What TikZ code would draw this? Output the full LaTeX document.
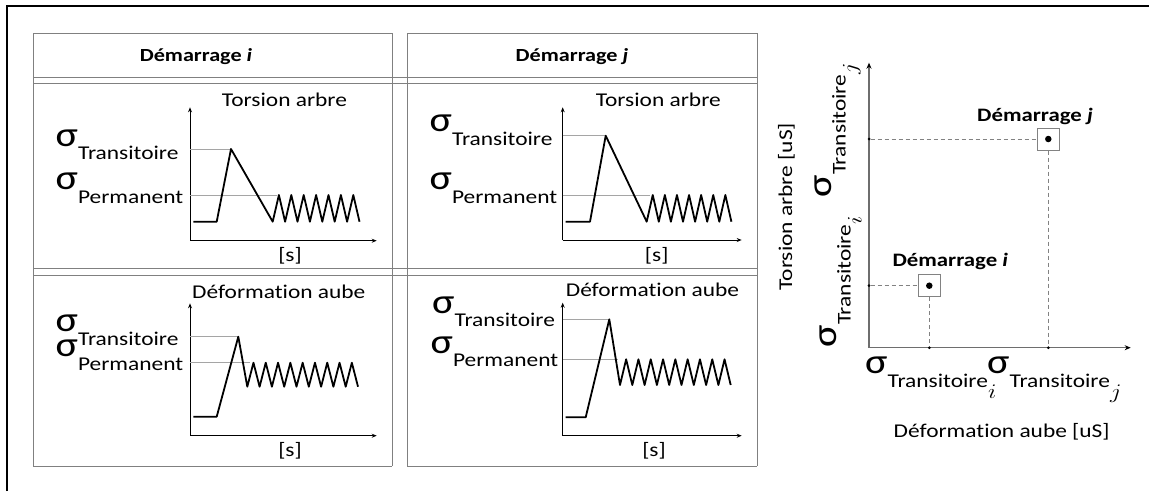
\documentclass[tikz,border=0pt]{standalone}
\usepackage{fontspec}
\usepackage{graphicx}
\setmainfont{Carlito}[Ligatures=CommonOff]
\newfontfamily\sigfont{Carlito}
\usetikzlibrary{arrows.meta}
\definecolor{tblgray}{RGB}{128,128,128}
\definecolor{guidegray}{RGB}{165,165,165}
\definecolor{axgray}{RGB}{110,110,110}
\definecolor{dashgray}{RGB}{130,130,130}
\newcommand\stretchx[1]{\scalebox{1.2}[1]{#1}}
\newcommand\labfont{\fontsize{19.5}{22}\selectfont}
\newcommand\hdrfont{\fontsize{18.5}{22}\selectfont\bfseries}
\newcommand\sigglyph{{\sigfont\fontsize{35}{35}\selectfont σ}}
\newcommand\mysig[1]{\stretchx{\sigglyph\raisebox{-13.5pt}{\labfont #1}}}
\newcommand\mysigsub[1]{\stretchx{\sigglyph\raisebox{-14pt}{\labfont Transitoire}\raisebox{-25pt}{\fontsize{22}{22}\selectfont$#1$}}}
\begin{document}
\begin{tikzpicture}[x=1pt,y=-1pt,
  tbl/.style={draw=tblgray,line width=1pt},
  ax/.style={line width=0.9pt,-{Stealth[length=5pt,width=4pt]}},
  axr/.style={draw=axgray,line width=1.4pt,-{Stealth[length=6pt,width=5pt,color=black]}},
  sigline/.style={line width=1.8pt,line join=round},
  guide/.style={draw=guidegray,line width=0.9pt},
  lbl/.style={inner sep=0pt,font=\labfont},
  siglbl/.style={inner sep=0pt,anchor=base west},
  hdr/.style={inner sep=0pt,anchor=base,font=\hdrfont},
  dashln/.style={draw=dashgray,line width=0.9pt,dash pattern=on 4pt off 3pt},
  bigdot/.style={circle,fill=black,inner sep=0pt,minimum size=6.5pt},
  smalldot/.style={circle,fill=black,inner sep=0pt,minimum size=3pt},
  sqbox/.style={draw=dashgray,line width=1pt,inner sep=0pt,minimum size=22pt}]
\useasboundingbox (0,0) rectangle (1149,491);
% outer frame
\draw[line width=2pt] (6.5,491) -- (6.5,5.5) -- (1149,5.5);
% table grid
\foreach \xx in {33,392,407,757} \draw[tbl] (\xx,33) -- (\xx,466);
\foreach \yy in {77,83,268,275} \draw[tbl] (33,\yy) -- (757,\yy);
\draw[tbl] (33,33) -- (392,33);
\draw[tbl] (407,33) -- (757,33);
\draw[tbl] (33,466) -- (392,466);
\draw[tbl] (407,466) -- (757,466);
% headers
\node[hdr] (hi) at (196,61) {\stretchx{Démarrage \textit{i}}};
\node[hdr] (hj) at (572,61) {\stretchx{Démarrage \textit{j}}};
% ---------- panel 1 ----------
\coordinate (o1) at (190,240.7);
\coordinate (y1) at (190,107.3);
\coordinate (x1) at (376.7,240.7);
\draw[ax] (o1) -- (y1);
\draw[ax] (o1) -- (x1);
\draw[guide] (190,149) -- (231,149);
\draw[guide] (190,195) -- (276.7,195);
\draw[sigline] (193.3,221.7) -- (216.7,221.7) -- (231,149) -- (272.7,221.7)
  \foreach \k in {1,...,7} { -- ++(6.2,-26.7) -- ++(6.2,26.7) };
\node[lbl,anchor=base] (t1) at (284.5,106) {\stretchx{Torsion arbre}};
\node[lbl,anchor=base] (s1) at (290,261) {\stretchx{[s]}};
\node[siglbl] (a1) at (55.5,146) {\mysig{Transitoire}};
\node[siglbl] (b1) at (55.5,189.5) {\mysig{Permanent}};
% ---------- panel 2 ----------
\coordinate (o2) at (562.7,240);
\coordinate (y2) at (562.7,107.3);
\coordinate (x2) at (741.7,240);
\draw[ax] (o2) -- (y2);
\draw[ax] (o2) -- (x2);
\draw[guide] (562.7,135.7) -- (605.7,135.7);
\draw[guide] (562.7,195) -- (650,195);
\draw[sigline] (565.7,221.7) -- (590,221.7) -- (605.7,135.7) -- (646.7,221.7)
  \foreach \k in {1,...,7} { -- ++(6.05,-26.7) -- ++(6.05,26.7) };
\node[lbl,anchor=base] (t2) at (658.3,106) {\stretchx{Torsion arbre}};
\node[lbl,anchor=base] (s2) at (656.7,261) {\stretchx{[s]}};
\node[siglbl] (a2) at (429.5,131.7) {\mysig{Transitoire}};
\node[siglbl] (b2) at (429.5,189.5) {\mysig{Permanent}};
% ---------- panel 3 ----------
\coordinate (o3) at (190,435.7);
\coordinate (y3) at (190,303.3);
\coordinate (x3) at (376.7,435.7);
\draw[ax] (o3) -- (y3);
\draw[ax] (o3) -- (x3);
\draw[guide] (190,336.7) -- (238.3,336.7);
\draw[guide] (190,362.7) -- (250,362.7);
\draw[sigline] (193.3,416.7) -- (216.7,416.7) -- (238.3,336.7) -- (247.3,386.7)
  \foreach \k in {1,...,9} { -- ++(6.15,-24) -- ++(6.15,24) };
\node[lbl,anchor=base] (t3) at (278.8,298.3) {\stretchx{Déformation aube}};
\node[lbl,anchor=base] (s3) at (290,456) {\stretchx{[s]}};
\node[siglbl] (a3) at (55.5,331.7) {\mysig{Transitoire}};
\node[siglbl] (b3) at (55.5,356.7) {\mysig{Permanent}};
% ---------- panel 4 ----------
\coordinate (o4) at (562.7,435.7);
\coordinate (y4) at (562.7,302.7);
\coordinate (x4) at (741.7,435.7);
\draw[ax] (o4) -- (y4);
\draw[ax] (o4) -- (x4);
\draw[guide] (562.7,319.3) -- (609.3,319.3);
\draw[guide] (562.7,359.3) -- (618.3,359.3);
\draw[sigline] (565.7,417.3) -- (585.7,417.3) -- (609.3,319.3) -- (620,385)
  \foreach \k in {1,...,9} { -- ++(6.15,-25.7) -- ++(6.15,25.7) };
\node[lbl,anchor=base] (t4) at (652.5,296.7) {\stretchx{Déformation aube}};
\node[lbl,anchor=base] (s4) at (654,456) {\stretchx{[s]}};
\node[siglbl] (a4) at (432,313.3) {\mysig{Transitoire}};
\node[siglbl] (b4) at (430.5,353.3) {\mysig{Permanent}};
% ---------- right chart ----------
\coordinate (O) at (869,347.7);
\coordinate (Yt) at (869,62.7);
\coordinate (Xt) at (1130.7,347.7);
\draw[axr] (O) -- (Yt);
\draw[axr] (O) -- (Xt);
\node[sqbox] (sqi) at (929.3,285.7) {};
\node[bigdot] (pi) at (929.3,285.7) {};
\node[sqbox] (sqj) at (1048.3,139) {};
\node[bigdot] (pj) at (1048.3,139) {};
\node[smalldot] (yi) at (869,285.7) {};
\node[smalldot] (xi) at (929.3,347.7) {};
\node[smalldot] (yj) at (869,139) {};
\node[smalldot] (xj) at (1048.3,347.7) {};
\draw[dashln] (yi) -- (sqi);
\draw[dashln] (sqi) -- (xi);
\draw[dashln] (yj) -- (sqj);
\draw[dashln] (sqj) -- (xj);
\node[inner sep=0pt,anchor=base,font=\fontsize{19}{22}\selectfont\bfseries] (li) at (950.3,266.7) {\stretchx{Démarrage \textit{i}}};
\node[inner sep=0pt,anchor=base,font=\fontsize{19}{22}\selectfont\bfseries] (lj) at (1035,121.7) {\stretchx{Démarrage \textit{j}}};
\node[siglbl] (sxi) at (865,373.3) {\mysigsub{i}};
\node[siglbl] (sxj) at (987,373.3) {\mysigsub{j}};
\node[lbl,anchor=base] (xlab) at (1001.7,437.3) {\stretchx{Déformation aube [uS]}};
\node[lbl,anchor=base,rotate=90] (ylab) at (792,206.7) {\stretchx{Torsion arbre [uS]}};
\node[siglbl,rotate=90] (syj) at (831.7,197.5) {\mysigsub{j}};
\node[siglbl,rotate=90] (syi) at (836.7,347.5) {\mysigsub{i}};
\end{tikzpicture}
\end{document}
